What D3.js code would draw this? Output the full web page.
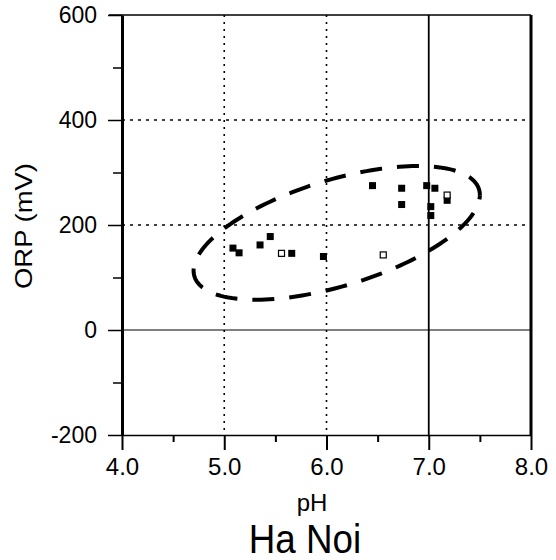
<!DOCTYPE html>
<html>
<head>
<meta charset="utf-8">
<script src="https://cdn.jsdelivr.net/npm/d3@7"></script>
<style>
  body { margin: 0; background: #fff; }
  text { font-family: "Liberation Sans", Arial, sans-serif; fill: #000; }
</style>
</head>
<body>
<svg id="chart" width="556" height="560"></svg>
<script>
// Axis ticks
const xTicks = [4.0, 5.0, 6.0, 7.0, 8.0];
const xMinorTicks = [4.5, 5.5, 6.5, 7.5];
const yTicks = [-200, 0, 200, 400, 600];
const yMinorTicks = [-100, 100, 300, 500];

// Gridlines
const xDottedGrid = [5.0, 6.0];
const xSolidGrid = [7.0];
const yDottedGrid = [200, 400];
const ySolidGrid = [0];

// Samples (filled squares)
const filledPH  = [5.085, 5.145, 5.35, 5.45, 5.66, 5.97, 6.45, 6.735, 6.735, 6.98, 7.06, 7.02, 7.02, 7.18];
const filledORP = [156,   147,   162,  178,  146,  140,  275,  270,   239,   275,  270,  235,  218,  247];

// Samples (open squares)
const openPH  = [5.56, 6.555, 7.18];
const openORP = [146,  143,   257];

// Grouping ellipse: centre and two conjugate half-diameters, in (pH, ORP) units
const ellipseCenter = [6.10, 185];
const ellipseU = [1.40, 72];
const ellipseV = [0.0, 105];

const svg = d3.select("#chart");

const x = d3.scaleLinear().domain([4, 8]).range([122, 531]);
const y = d3.scaleLinear().domain([-200, 600]).range([435, 15]);

// Gridlines
const grid = svg.append("g");
grid.selectAll(".vdot").data(xDottedGrid).join("line")
  .attr("x1", d => x(d)).attr("x2", d => x(d))
  .attr("y1", y(600)).attr("y2", y(-200))
  .attr("stroke", "#000").attr("stroke-width", 1.6).attr("stroke-dasharray", "2,5");
grid.selectAll(".vsolid").data(xSolidGrid).join("line")
  .attr("x1", d => x(d)).attr("x2", d => x(d))
  .attr("y1", y(600)).attr("y2", y(-200))
  .attr("stroke", "#000").attr("stroke-width", 1.8);
grid.selectAll(".hdot").data(yDottedGrid).join("line")
  .attr("x1", x(4)).attr("x2", x(8))
  .attr("y1", d => y(d)).attr("y2", d => y(d))
  .attr("stroke", "#000").attr("stroke-width", 1.6).attr("stroke-dasharray", "3,5");
grid.selectAll(".hsolid").data(ySolidGrid).join("line")
  .attr("x1", x(4)).attr("x2", x(8))
  .attr("y1", d => y(d)).attr("y2", d => y(d))
  .attr("stroke", "#000").attr("stroke-width", 1);

// Frame: top and right borders
svg.append("line").attr("x1", x(4) - 13).attr("x2", x(8)).attr("y1", y(600)).attr("y2", y(600))
  .attr("stroke", "#000").attr("stroke-width", 1.6);
svg.append("line").attr("x1", x(8)).attr("x2", x(8)).attr("y1", y(600)).attr("y2", y(-200))
  .attr("stroke", "#000").attr("stroke-width", 3);

// Bottom axis
const xAxis = svg.append("g").attr("transform", `translate(0,${y(-200)})`)
  .call(d3.axisBottom(x).tickValues(xTicks).tickSize(15).tickSizeOuter(0)
    .tickFormat(d3.format(".1f")));
xAxis.select(".domain").attr("stroke-width", 1.5);
xAxis.selectAll(".tick line").attr("stroke-width", 2);
xAxis.selectAll("text").attr("y", 40).attr("dy", 0)
  .style("font-size", "24px");
svg.append("g").attr("transform", `translate(0,${y(-200)})`)
  .call(d3.axisBottom(x).tickValues(xMinorTicks).tickSize(7).tickFormat(""))
  .call(g => g.select(".domain").remove())
  .selectAll(".tick line").attr("stroke-width", 2);

// Left axis (plain hyphen for negative values)
const yAxis = svg.append("g").attr("transform", `translate(${x(4)},0)`)
  .call(d3.axisLeft(y).tickValues(yTicks).tickSize(14).tickSizeOuter(0).tickPadding(11)
    .tickFormat(d => String(d)));
yAxis.select(".domain").attr("stroke-width", 3);
yAxis.selectAll(".tick line").attr("stroke-width", 1.5);
yAxis.selectAll("text").style("font-size", "23px");
svg.append("g").attr("transform", `translate(${x(4)},0)`)
  .call(d3.axisLeft(y).tickValues(yMinorTicks).tickSize(9).tickFormat(""))
  .call(g => g.select(".domain").remove())
  .selectAll(".tick line").attr("stroke-width", 1.5);

// Grouping ellipse (dashed)
const ts = d3.range(0, 2 * Math.PI + 0.001, Math.PI / 90);
const ellipsePts = ts.map(t => [
  ellipseCenter[0] + ellipseU[0] * Math.cos(t) + ellipseV[0] * Math.sin(t),
  ellipseCenter[1] + ellipseU[1] * Math.cos(t) + ellipseV[1] * Math.sin(t)
]);
svg.append("path")
  .attr("d", d3.line().x(d => x(d[0])).y(d => y(d[1]))(ellipsePts))
  .attr("fill", "none").attr("stroke", "#000").attr("stroke-width", 4)
  .attr("stroke-dasharray", "22,15");

// Sample markers
const sq = 7;
svg.append("g").selectAll("rect").data(d3.range(filledPH.length)).join("rect")
  .attr("x", i => x(filledPH[i]) - sq / 2).attr("y", i => y(filledORP[i]) - sq / 2)
  .attr("width", sq).attr("height", sq).attr("fill", "#000");
svg.append("g").selectAll("rect").data(d3.range(openPH.length)).join("rect")
  .attr("x", i => x(openPH[i]) - sq / 2 + 0.5).attr("y", i => y(openORP[i]) - sq / 2 + 0.5)
  .attr("width", sq - 1).attr("height", sq - 1)
  .attr("fill", "#fff").attr("stroke", "#000").attr("stroke-width", 1.2);

// Axis titles
svg.append("text").attr("transform", "translate(32,226) rotate(-90)")
  .attr("text-anchor", "middle").style("font-size", "24px")
  .attr("textLength", 126).attr("lengthAdjust", "spacingAndGlyphs")
  .text("ORP (mV)");
svg.append("text").attr("x", 312).attr("y", 511)
  .attr("text-anchor", "middle").style("font-size", "24px").text("pH");
svg.append("text").attr("transform", "translate(305,553) scale(0.92,1)")
  .attr("text-anchor", "middle").style("font-size", "40px").text("Ha Noi");
</script>
</body>
</html>
